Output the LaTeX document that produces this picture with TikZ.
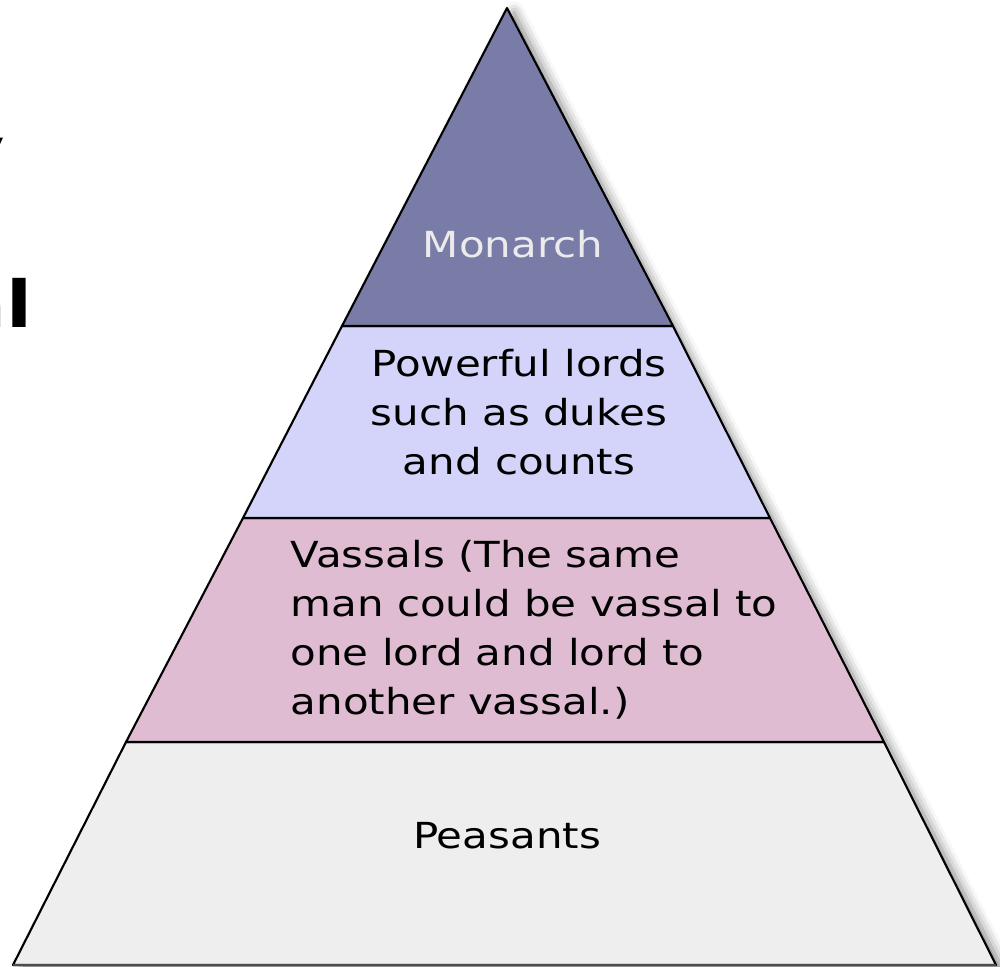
\documentclass[tikz,border=0pt]{standalone}
\usepackage{fontspec}
\setmainfont{DejaVu Sans}[FakeStretch=1.17]
\usetikzlibrary{shadows.blur}
\definecolor{monarch}{RGB}{122,124,168}
\definecolor{lords}{RGB}{212,212,250}
\definecolor{vassals}{RGB}{224,188,210}
\definecolor{peasants}{RGB}{238,238,238}
\tikzset{
  layer/.style={draw=black, line width=0.6pt, line join=round},
  label/.style={inner sep=0pt, font=\fontsize{10.2}{13.9}\selectfont},
  cut/.style={inner sep=0pt, font=\fontsize{18.4}{20}\selectfont\bfseries}
}
\begin{document}
\begin{tikzpicture}[x=0.01cm,y=-0.01cm]
\useasboundingbox (0,0) rectangle (1000,966);
% shadow
\fill[white, blur shadow={shadow xshift=2pt, shadow yshift=-1.2pt, shadow blur radius=3pt, shadow opacity=50}]
  (507,8) -- (996,965) -- (13,965) -- cycle;
% layers
\draw[layer, fill=peasants] (126,742) -- (884,742) -- (996,965) -- (13,965) -- cycle;
\draw[layer, fill=vassals] (243,518) -- (770,518) -- (884,742) -- (126,742) -- cycle;
\draw[layer, fill=lords] (342,326) -- (673,326) -- (770,518) -- (243,518) -- cycle;
\draw[layer, fill=monarch] (507,8) -- (673,326) -- (342,326) -- cycle;
\draw[draw=black!70, line width=0.8pt] (13,965) -- (996,965);
% texts
\node[label, text=black!8] (top) at (513,244) {Monarch};
\node[label, align=center] (lords) at (519,412) {Powerful lords\\such as dukes\\and counts};
\node[label, align=left, anchor=north west] (vassal) at (290,540) {Vassals (The same\\man could be vassal to\\one lord and lord to\\another vassal.)};
\node[label] (base) at (507,836) {Peasants};
% cut-off title
\node[cut, anchor=base east] (cuty) at (6,173) {y};
\node[cut, anchor=base east] (cutal) at (33,327) {al};
\end{tikzpicture}
\end{document}
